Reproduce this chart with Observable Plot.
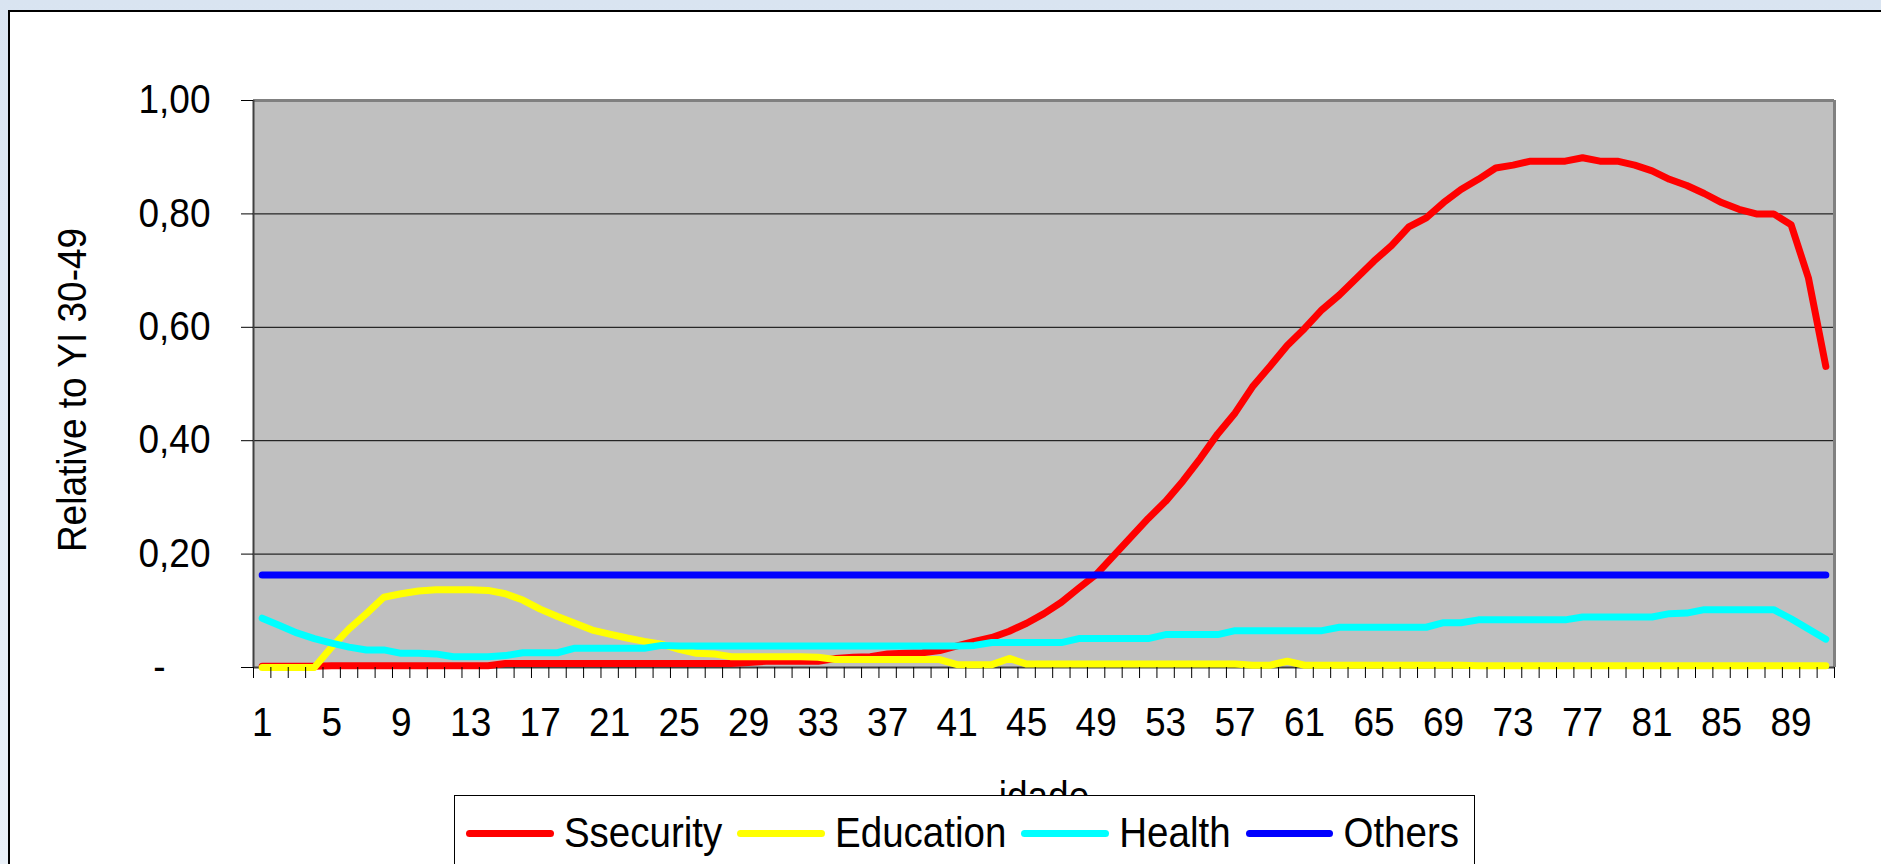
<!DOCTYPE html>
<html>
<head>
<meta charset="utf-8">
<script src="https://cdn.jsdelivr.net/npm/d3@7"></script>
<script src="https://cdn.jsdelivr.net/npm/@observablehq/plot@0.6"></script>
<style>
  html, body { margin: 0; padding: 0; width: 1881px; height: 864px; overflow: hidden; }
  body { background: linear-gradient(to bottom, #d9e4f1, #e9f0f8); font-family: "Liberation Sans", Arial, sans-serif; }
  #frame { position: absolute; left: 8px; top: 10px; width: 2000px; height: 1000px; background: white; border: 2px solid #000; box-sizing: border-box; }
  #chart { position: absolute; left: 0; top: 0; }
  #legend { position: absolute; left: 454px; top: 795px; width: 1021px; height: 140px; background: white; border: 1px solid #000; box-sizing: border-box; }
  #legend .row { display: flex; align-items: center; height: 74px; padding-left: 11px; }
  #legend .sw { display: inline-block; width: 90px; height: 7px; border-radius: 3.5px; margin-right: 10px; }
  #legend .lab { display: inline-block; font-size: 38.5px; margin-right: 15px; color: #000; line-height: 1; transform: scaleY(1.08); }
</style>
</head>
<body>
<div id="frame"></div>
<div id="chart"></div>
<div id="legend"><div class="row"></div></div>
<script>
// ---- data ----
const idade = [1,2,3,4,5,6,7,8,9,10,11,12,13,14,15,16,17,18,19,20,21,22,23,24,25,26,27,28,29,30,
  31,32,33,34,35,36,37,38,39,40,41,42,43,44,45,46,47,48,49,50,51,52,53,54,55,56,57,58,59,60,
  61,62,63,64,65,66,67,68,69,70,71,72,73,74,75,76,77,78,79,80,81,82,83,84,85,86,87,88,89,90,91];

const ssecurity = [0.002,0.002,0.002,0.002,0.003,0.003,0.003,0.003,0.003,0.003,
  0.003,0.003,0.003,0.003,0.007,0.007,0.007,0.007,0.007,0.007,
  0.007,0.007,0.007,0.007,0.007,0.007,0.007,0.007,0.009,0.011,
  0.011,0.011,0.011,0.016,0.018,0.019,0.024,0.025,0.026,0.030,
  0.038,0.046,0.053,0.064,0.078,0.095,0.115,0.140,0.164,0.197,
  0.230,0.263,0.293,0.329,0.369,0.412,0.449,0.495,0.531,0.568,
  0.598,0.631,0.657,0.687,0.717,0.744,0.777,0.793,0.820,0.843,
  0.861,0.881,0.886,0.893,0.893,0.893,0.899,0.893,0.893,0.886,
  0.876,0.861,0.850,0.836,0.820,0.808,0.800,0.800,0.781,0.687,
  0.531];

const education = [0,0,0,0,0.036,0.068,0.095,0.124,0.130,0.135,
  0.137,0.137,0.137,0.136,0.130,0.119,0.103,0.090,0.078,0.066,
  0.059,0.052,0.046,0.041,0.032,0.025,0.024,0.019,0.019,0.019,
  0.019,0.019,0.018,0.014,0.014,0.014,0.014,0.014,0.014,0.014,
  0.005,0.005,0.005,0.016,0.006,0.006,0.006,0.006,0.006,0.006,
  0.006,0.006,0.006,0.006,0.006,0.006,0.006,0.004,0.004,0.011,
  0.004,0.004,0.004,0.004,0.004,0.004,0.004,0.004,0.004,0.004,
  0.003,0.003,0.003,0.003,0.003,0.003,0.003,0.003,0.003,0.003,
  0.003,0.003,0.003,0.003,0.003,0.003,0.003,0.003,0.003,0.003,
  0.003];

const health = [0.087,0.074,0.061,0.051,0.043,0.036,0.031,0.031,0.025,0.025,
  0.024,0.019,0.019,0.019,0.021,0.026,0.026,0.026,0.034,0.034,
  0.034,0.034,0.034,0.039,0.038,0.038,0.038,0.038,0.038,0.038,
  0.038,0.038,0.038,0.038,0.038,0.038,0.038,0.038,0.038,0.038,
  0.038,0.039,0.044,0.044,0.044,0.044,0.044,0.051,0.051,0.051,
  0.051,0.051,0.058,0.058,0.058,0.058,0.065,0.065,0.065,0.065,
  0.065,0.065,0.071,0.071,0.071,0.071,0.071,0.071,0.079,0.079,
  0.084,0.084,0.084,0.084,0.084,0.084,0.089,0.089,0.089,0.089,
  0.089,0.095,0.096,0.102,0.102,0.102,0.102,0.102,0.086,0.068,
  0.050];

const others = [0.163,0.163,0.163,0.163,0.163,0.163,0.163,0.163,0.163,0.163,
  0.163,0.163,0.163,0.163,0.163,0.163,0.163,0.163,0.163,0.163,
  0.163,0.163,0.163,0.163,0.163,0.163,0.163,0.163,0.163,0.163,
  0.163,0.163,0.163,0.163,0.163,0.163,0.163,0.163,0.163,0.163,
  0.163,0.163,0.163,0.163,0.163,0.163,0.163,0.163,0.163,0.163,
  0.163,0.163,0.163,0.163,0.163,0.163,0.163,0.163,0.163,0.163,
  0.163,0.163,0.163,0.163,0.163,0.163,0.163,0.163,0.163,0.163,
  0.163,0.163,0.163,0.163,0.163,0.163,0.163,0.163,0.163,0.163,
  0.163,0.163,0.163,0.163,0.163,0.163,0.163,0.163,0.163,0.163,
  0.163];

const seriesNames = ["Ssecurity", "Education", "Health", "Others"];
const seriesColors = ["#FF0000", "#FFFF00", "#00FFFF", "#0000FF"];
const yTicks = [0, 0.2, 0.4, 0.6, 0.8, 1.0];
const yTickLabels = ["-", "0,20", "0,40", "0,60", "0,80", "1,00"];
const xTickLabels = [1,5,9,13,17,21,25,29,33,37,41,45,49,53,57,61,65,69,73,77,81,85,89];
const yTitle = "Relative to YI 30-49";
const xTitle = "idade";

// ---- table for the library ----
const rows = idade.map((a, i) => ({idade: a, Ssecurity: ssecurity[i], Education: education[i], Health: health[i], Others: others[i]}));
const boundaries = idade.map(d => d - 0.5).concat([idade[idade.length - 1] + 0.5]);
const yLabelMap = new Map(yTicks.map((t, i) => [t, yTickLabels[i]]));

const W = 1881, H = 864;
const chart = Plot.plot({
  width: W, height: H,
  marginLeft: 253, marginRight: 47, marginTop: 100, marginBottom: 197,
  x: {domain: [0.5, 91.5]},
  y: {domain: [0, 1]},
  style: {fontFamily: "'Liberation Sans', Arial, sans-serif", fontSize: "37px", background: "transparent", color: "#000", overflow: "visible"},
  marks: [
    Plot.frame({fill: "#C0C0C0", stroke: "none"}),
    Plot.ruleY([0.2, 0.4, 0.6, 0.8], {stroke: "#000", strokeWidth: 1}),
    Plot.ruleY([1], {stroke: "#808080", strokeWidth: 3}),
    Plot.ruleX([91.5], {stroke: "#808080", strokeWidth: 3}),
    Plot.ruleX([0.5], {stroke: "#404040", strokeWidth: 2}),
    Plot.ruleY([0], {stroke: "#404040", strokeWidth: 2}),
    ...seriesNames.map((name, k) => Plot.line(rows, {
      x: "idade", y: name, stroke: seriesColors[k], strokeWidth: 7,
      strokeLinecap: "round", strokeLinejoin: "round"
    })),
    Plot.axisY({ticks: yTicks, tickSize: 12, tickPadding: 31, label: null,
      tickFormat: d => (d === 0 ? "" : yLabelMap.get(d))}),
    Plot.text([yTickLabels[0]], {frameAnchor: "bottom-left", text: d => d, dx: -88, textAnchor: "end", lineAnchor: "middle", fontSize: 37}),
    Plot.axisX({ticks: boundaries, tickSize: 11, tickFormat: () => "", label: null}),
    Plot.axisX({ticks: xTickLabels, tickSize: 0, tickPadding: 40, label: null, tickFormat: d => String(d)}),
    Plot.text([yTitle], {frameAnchor: "left", text: d => d, dx: -180, dy: 6, rotate: -90, fontSize: 37, textAnchor: "middle", lineAnchor: "middle"}),
    Plot.text([xTitle], {frameAnchor: "bottom", text: d => d, dy: 130, fontSize: 37, textAnchor: "middle", lineAnchor: "middle"})
  ]
});
document.getElementById("chart").appendChild(chart);

// slight vertical stretch of glyphs, as in the original rendering
const S = 1.08;
chart.querySelectorAll("text").forEach(t => {
  const tr = t.getAttribute("transform");
  if (tr) {
    t.setAttribute("transform", tr + ` scale(1,${S})`);
  } else {
    const x = +t.getAttribute("x") || 0, y = +t.getAttribute("y") || 0;
    t.setAttribute("transform", `translate(${x},${y}) scale(1,${S}) translate(${-x},${-y})`);
  }
});

// ---- legend ----
const row = document.querySelector("#legend .row");
seriesNames.forEach((name, k) => {
  const sw = document.createElement("span");
  sw.className = "sw";
  sw.style.background = seriesColors[k];
  const lab = document.createElement("span");
  lab.className = "lab";
  lab.textContent = name;
  row.appendChild(sw);
  row.appendChild(lab);
});
</script>
</body>
</html>
